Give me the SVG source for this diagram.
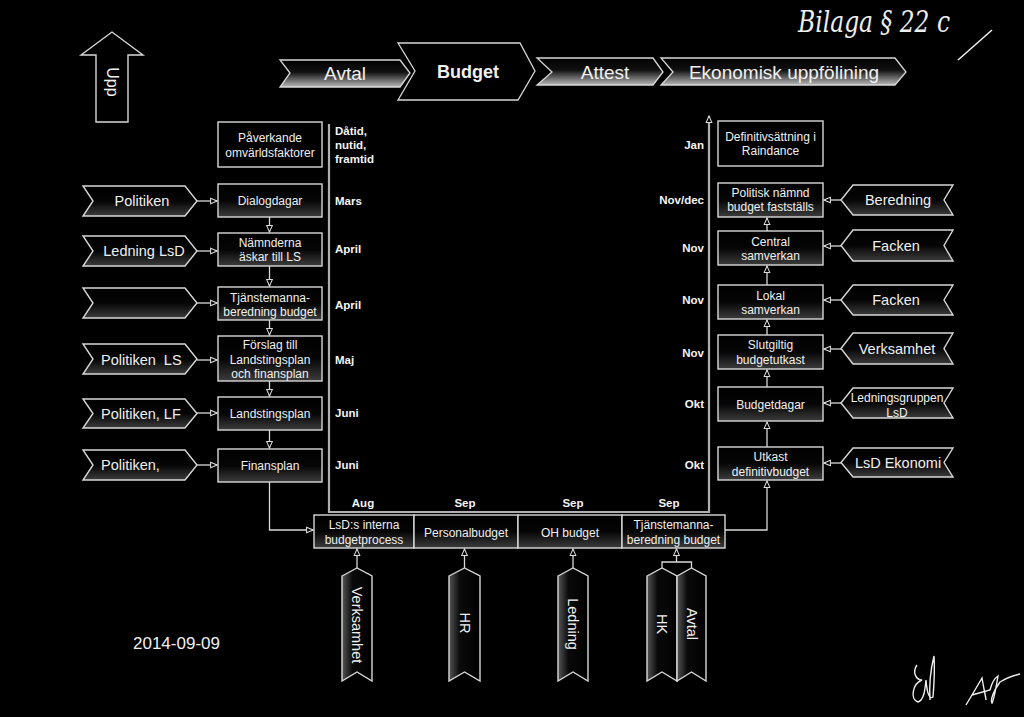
<svg xmlns="http://www.w3.org/2000/svg" width="1024" height="717" viewBox="0 0 1024 717">
<style>
.bg{fill:#000}
.bx{fill:url(#gv);stroke:#d8d8d8;stroke-width:1.4}
.ch{fill:url(#gv);stroke:#d8d8d8;stroke-width:1.4}
.tg{fill:url(#gh);stroke:#d8d8d8;stroke-width:1.4}
.ln{fill:none;stroke:#d8d8d8;stroke-width:1.3}
.tl{fill:none;stroke:#b0b0b0;stroke-width:2.2}
.t{font-family:"Liberation Sans",Arial,sans-serif;fill:#f0f0f0;text-anchor:middle}
.st{text-anchor:start}
.s12{font-size:12px}
.s14{font-size:14.5px}
.b{font-family:"Liberation Sans",Arial,sans-serif;fill:#f4f4f4;font-weight:bold;font-size:11.5px}
.r{text-anchor:end}
.m{text-anchor:middle}
</style>
<defs>
<linearGradient id="gv" x1="0" y1="0" x2="0" y2="1">
<stop offset="0" stop-color="#000"/><stop offset="0.5" stop-color="#050505"/><stop offset="1" stop-color="#3c3c3c"/>
</linearGradient>
<linearGradient id="gtop" x1="0" y1="0" x2="0" y2="1">
<stop offset="0" stop-color="#000"/><stop offset="0.45" stop-color="#111"/><stop offset="1" stop-color="#b8b8b8"/>
</linearGradient>
<linearGradient id="gh" x1="0" y1="0" x2="1" y2="0">
<stop offset="0" stop-color="#555"/><stop offset="0.35" stop-color="#0a0a0a"/><stop offset="1" stop-color="#000"/>
</linearGradient>
<marker id="a" viewBox="0 0 10 10" refX="9" refY="5" markerWidth="8" markerHeight="8" orient="auto" markerUnits="userSpaceOnUse">
<path d="M1,1.5 L9,5 L1,8.5 z" fill="#000" stroke="#dcdcdc" stroke-width="1.3"/>
</marker>
</defs>
<rect class="bg" x="0" y="0" width="1024" height="717"/>

<!-- Upp arrow -->
<g id="upp">
<path d="M96,122 V55 H81 L112,32 L143,55 H128 V122 Z" fill="#000" stroke="#d8d8d8" stroke-width="1.4"/>
<text class="t" font-size="16" transform="rotate(90 112 82)" x="112" y="82" dominant-baseline="central">Upp</text>
</g>

<!-- top chevrons -->
<g id="top-avtal">
<polygon points="280,60 400,60 410,73 400,87 280,87 290,73" fill="url(#gtop)" stroke="#d8d8d8" stroke-width="1.3"/>
<text class="t" font-size="19" x="345" y="80">Avtal</text>
</g>
<g id="top-budget">
<polygon points="398,43 520,43 535,71 518,100 398,100 415,71" fill="#000" stroke="#d8d8d8" stroke-width="1.3"/>
<text class="t" font-size="18" font-weight="bold" x="468" y="78">Budget</text>
</g>
<g id="top-attest">
<polygon points="537,58 653,58 663,72 653,85 537,85 552,72" fill="url(#gtop)" stroke="#d8d8d8" stroke-width="1.3"/>
<text class="t" font-size="19" x="605" y="79">Attest</text>
</g>
<g id="top-ekonomisk">
<polygon points="661,58 895,58 906,72 895,85 661,85 673,72" fill="url(#gtop)" stroke="#d8d8d8" stroke-width="1.3"/>
<text class="t" font-size="19" x="784" y="79">Ekonomisk uppfölining</text>
</g>

<!-- handwritten note -->
<g id="note">
<text x="798" y="32" font-family="'DejaVu Serif','Liberation Serif',serif" font-style="italic" font-size="30" fill="#eee" textLength="152" lengthAdjust="spacingAndGlyphs">Bilaga § 22 c</text>
<path d="M958,60 L992,30" fill="none" stroke="#eee" stroke-width="1.6"/>
</g>

<!-- connectors -->
<g id="connectors">
<path class="tl" d="M329,124 V512 H709 V116" marker-end="url(#a)"/>
<line class="ln" x1="197" y1="201" x2="217" y2="201" marker-end="url(#a)"/>
<line class="ln" x1="197" y1="251" x2="217" y2="251" marker-end="url(#a)"/>
<line class="ln" x1="197" y1="303" x2="217" y2="303" marker-end="url(#a)"/>
<line class="ln" x1="197" y1="360" x2="217" y2="360" marker-end="url(#a)"/>
<line class="ln" x1="197" y1="413" x2="217" y2="413" marker-end="url(#a)"/>
<line class="ln" x1="197" y1="465" x2="217" y2="465" marker-end="url(#a)"/>
<line class="ln" x1="269.5" y1="217" x2="269.5" y2="232" marker-end="url(#a)"/>
<line class="ln" x1="269.5" y1="266" x2="269.5" y2="286" marker-end="url(#a)"/>
<line class="ln" x1="269.5" y1="320" x2="269.5" y2="335" marker-end="url(#a)"/>
<line class="ln" x1="269.5" y1="381" x2="269.5" y2="396" marker-end="url(#a)"/>
<line class="ln" x1="269.5" y1="430" x2="269.5" y2="448" marker-end="url(#a)"/>
<path class="ln" d="M269.5,482 V530 H313" marker-end="url(#a)"/>
<line class="ln" x1="841" y1="200" x2="824" y2="200" marker-end="url(#a)"/>
<line class="ln" x1="841" y1="246" x2="824" y2="246" marker-end="url(#a)"/>
<line class="ln" x1="841" y1="300" x2="824" y2="300" marker-end="url(#a)"/>
<line class="ln" x1="841" y1="349" x2="824" y2="349" marker-end="url(#a)"/>
<line class="ln" x1="841" y1="403" x2="824" y2="403" marker-end="url(#a)"/>
<line class="ln" x1="841" y1="463" x2="824" y2="463" marker-end="url(#a)"/>
<line class="ln" x1="767" y1="231" x2="767" y2="218" marker-end="url(#a)"/>
<line class="ln" x1="767" y1="285" x2="767" y2="266" marker-end="url(#a)"/>
<line class="ln" x1="767" y1="335" x2="767" y2="320" marker-end="url(#a)"/>
<line class="ln" x1="767" y1="387" x2="767" y2="370" marker-end="url(#a)"/>
<line class="ln" x1="767" y1="447" x2="767" y2="422" marker-end="url(#a)"/>
<path class="ln" d="M725,530 H767 V481" marker-end="url(#a)"/>
<line class="ln" x1="357" y1="568" x2="357" y2="549" marker-end="url(#a)"/>
<line class="ln" x1="464.5" y1="568" x2="464.5" y2="549" marker-end="url(#a)"/>
<line class="ln" x1="573" y1="568" x2="573" y2="549" marker-end="url(#a)"/>
<path class="ln" d="M662,568 V562 H691.5 V568"/>
<line class="ln" x1="676.5" y1="562" x2="676.5" y2="549" marker-end="url(#a)"/>
</g>

<!-- timeline labels -->
<g id="labels-left">
<text class="b" x="335" y="135">Dåtid,</text>
<text class="b" x="335" y="149">nutid,</text>
<text class="b" x="335" y="163">framtid</text>
<text class="b" x="335" y="205">Mars</text>
<text class="b" x="335" y="253">April</text>
<text class="b" x="335" y="309">April</text>
<text class="b" x="335" y="364">Maj</text>
<text class="b" x="335" y="417">Juni</text>
<text class="b" x="335" y="469">Juni</text>
</g>
<g id="labels-right">
<text class="b r" x="704" y="149">Jan</text>
<text class="b r" x="704" y="204">Nov/dec</text>
<text class="b r" x="704" y="252">Nov</text>
<text class="b r" x="704" y="304">Nov</text>
<text class="b r" x="704" y="357">Nov</text>
<text class="b r" x="704" y="408">Okt</text>
<text class="b r" x="704" y="469">Okt</text>
</g>
<g id="labels-bottom">
<text class="b m" x="363" y="507">Aug</text>
<text class="b m" x="465" y="507">Sep</text>
<text class="b m" x="573" y="507">Sep</text>
<text class="b m" x="669" y="507">Sep</text>
</g>

<!-- left chevrons -->
<g id="l-politiken"><polygon class="ch" points="83,186 185,186 197,201 185,216 83,216 93,201"/><text class="t s14" x="142" y="206">Politiken</text></g>
<g id="l-ledning"><polygon class="ch" points="83,236 185,236 197,251 185,266 83,266 93,251"/><text class="t s14" x="144" y="256">Ledning LsD</text></g>
<g id="l-empty"><polygon class="ch" points="83,288 185,288 197,303 185,318 83,318 93,303"/></g>
<g id="l-politiken-ls"><polygon class="ch" points="83,344 185,344 197,359 185,374 83,374 93,359"/><text class="t st s14" x="101" y="365" xml:space="preserve">Politiken  LS</text></g>
<g id="l-politiken-lf"><polygon class="ch" points="83,399 185,399 197,413.5 185,428 83,428 93,413.5"/><text class="t st s14" x="101" y="419">Politiken, LF</text></g>
<g id="l-politiken-2"><polygon class="ch" points="83,450 185,450 197,465 185,480 83,480 93,465"/><text class="t st s14" x="101" y="470">Politiken,</text></g>

<!-- left boxes -->
<g id="b-paverkande"><rect class="bx" x="218" y="122" width="104" height="45" style="fill:#000"/><text class="t s12" x="270" y="142">Påverkande</text><text class="t s12" x="270" y="156.5">omvärldsfaktorer</text></g>
<g id="b-dialog"><rect class="bx" x="218" y="184" width="104" height="33"/><text class="t s12" x="270" y="205">Dialogdagar</text></g>
<g id="b-namnderna"><rect class="bx" x="218" y="233" width="104" height="33"/><text class="t s12" x="270" y="247">Nämnderna</text><text class="t s12" x="270" y="261">äskar till LS</text></g>
<g id="b-tjanste1"><rect class="bx" x="218" y="287" width="104" height="33"/><text class="t s12" x="270" y="301.5">Tjänstemanna-</text><text class="t s12" x="270" y="315.5">beredning budget</text></g>
<g id="b-forslag"><rect class="bx" x="218" y="336" width="104" height="45"/><text class="t s12" x="270" y="349">Förslag till</text><text class="t s12" x="270" y="364">Landstingsplan</text><text class="t s12" x="270" y="378">och finansplan</text></g>
<g id="b-landstingsplan"><rect class="bx" x="218" y="397" width="104" height="33"/><text class="t s12" x="270" y="417.5">Landstingsplan</text></g>
<g id="b-finansplan"><rect class="bx" x="218" y="449" width="104" height="33"/><text class="t s12" x="270" y="469.5">Finansplan</text></g>

<!-- right boxes -->
<g id="b-definitiv"><rect class="bx" x="718" y="121" width="105" height="45" style="fill:#000"/><text class="t s12" x="770.5" y="141">Definitivsättning i</text><text class="t s12" x="770.5" y="155">Raindance</text></g>
<g id="b-politisk"><rect class="bx" x="718" y="183" width="105" height="34"/><text class="t s12" x="770.5" y="197">Politisk nämnd</text><text class="t s12" x="770.5" y="211">budget fastställs</text></g>
<g id="b-central"><rect class="bx" x="718" y="231" width="105" height="34"/><text class="t s12" x="770.5" y="246">Central</text><text class="t s12" x="770.5" y="260">samverkan</text></g>
<g id="b-lokal"><rect class="bx" x="718" y="285" width="105" height="34"/><text class="t s12" x="770.5" y="300">Lokal</text><text class="t s12" x="770.5" y="314">samverkan</text></g>
<g id="b-slutgiltig"><rect class="bx" x="718" y="335" width="105" height="34"/><text class="t s12" x="770.5" y="349">Slutgiltig</text><text class="t s12" x="770.5" y="364">budgetutkast</text></g>
<g id="b-budgetdagar"><rect class="bx" x="718" y="387" width="105" height="34"/><text class="t s12" x="770.5" y="409">Budgetdagar</text></g>
<g id="b-utkast"><rect class="bx" x="718" y="447" width="105" height="33"/><text class="t s12" x="770.5" y="461">Utkast</text><text class="t s12" x="770.5" y="476">definitivbudget</text></g>

<!-- right chevrons -->
<g id="r-beredning"><polygon class="ch" points="841,200 853,185 953,185 944,200 953,215 853,215"/><text class="t s14" x="898" y="205">Beredning</text></g>
<g id="r-facken1"><polygon class="ch" points="841,245.5 853,230 953,230 944,245.5 953,261 853,261"/><text class="t s14" x="896" y="251">Facken</text></g>
<g id="r-facken2"><polygon class="ch" points="841,300 853,285 953,285 944,300 953,315 853,315"/><text class="t s14" x="896" y="305">Facken</text></g>
<g id="r-verksamhet"><polygon class="ch" points="841,348.5 853,333 953,333 944,348.5 953,364 853,364"/><text class="t s14" x="897" y="354">Verksamhet</text></g>
<g id="r-ledningsgruppen"><polygon class="ch" points="841,403 853,388 953,388 944,403 953,418 853,418"/><text class="t s12" x="897" y="402">Ledningsgruppen</text><text class="t s12" x="897" y="417">LsD</text></g>
<g id="r-lsd-ekonomi"><polygon class="ch" points="841,462.5 853,448 953,448 944,462.5 953,477 853,477"/><text class="t s14" x="898" y="468">LsD Ekonomi</text></g>

<!-- bottom row -->
<g id="b-interna"><rect class="bx" x="314" y="515" width="100" height="33"/><text class="t s12" x="364" y="529">LsD:s interna</text><text class="t s12" x="364" y="544">budgetprocess</text></g>
<g id="b-personal"><rect class="bx" x="414" y="515" width="104" height="33"/><text class="t s12" x="466" y="537">Personalbudget</text></g>
<g id="b-oh"><rect class="bx" x="518" y="515" width="104" height="33"/><text class="t s12" x="570" y="536.5">OH budget</text></g>
<g id="b-tjanste2"><rect class="bx" x="622" y="515" width="103" height="33"/><text class="t s12" x="673.5" y="529">Tjänstemanna-</text><text class="t s12" x="673.5" y="544">beredning budget</text></g>

<!-- bottom tags -->
<g id="t-verksamhet"><polygon class="tg" points="342,576 357,568 372,576 372,681 357,672 342,681"/><text class="t s14" transform="rotate(90 357 625)" x="357" y="625" dominant-baseline="central">Verksamhet</text></g>
<g id="t-hr"><polygon class="tg" points="449,576 464.5,568 480,576 480,681 464.5,672 449,681"/><text class="t s14" transform="rotate(90 464.5 623)" x="464.5" y="623" dominant-baseline="central">HR</text></g>
<g id="t-ledning"><polygon class="tg" points="558,576 573,568 588,576 588,681 573,672 558,681"/><text class="t s14" transform="rotate(90 573 624)" x="573" y="624" dominant-baseline="central">Ledning</text></g>
<g id="t-hk"><polygon class="tg" points="647,576 662,568 677,576 677,681 662,672 647,681"/><text class="t s14" transform="rotate(90 662 624)" x="662" y="624" dominant-baseline="central">HK</text></g>
<g id="t-avtal"><polygon class="tg" points="677,576 691.5,568 706,576 706,681 691.5,672 677,681"/><text class="t s14" transform="rotate(90 691.5 624)" x="691.5" y="624" dominant-baseline="central">Avtal</text></g>

<!-- date -->
<text x="133" y="649" font-family="'Liberation Sans',Arial,sans-serif" font-size="17" fill="#f0f0f0">2014-09-09</text>

<!-- signatures -->
<g id="signatures" fill="none" stroke="#eee" stroke-width="1.4">
<path d="M917,665 C912,672 916,680 922,680 C912,684 910,700 918,702 C924,700 925,690 926,680 C927,692 929,700 933,697 C934,685 935,670 934,656 C931,668 929,685 930,700"/>
<path d="M966,705 C972,695 978,685 982,678 C984,690 986,698 986,700 M972,695 L990,690 C992,682 995,678 998,676 C996,688 994,700 992,703 C990,700 994,690 1000,682 C1008,677 1016,675 1020,674"/>
</g>
</svg>
